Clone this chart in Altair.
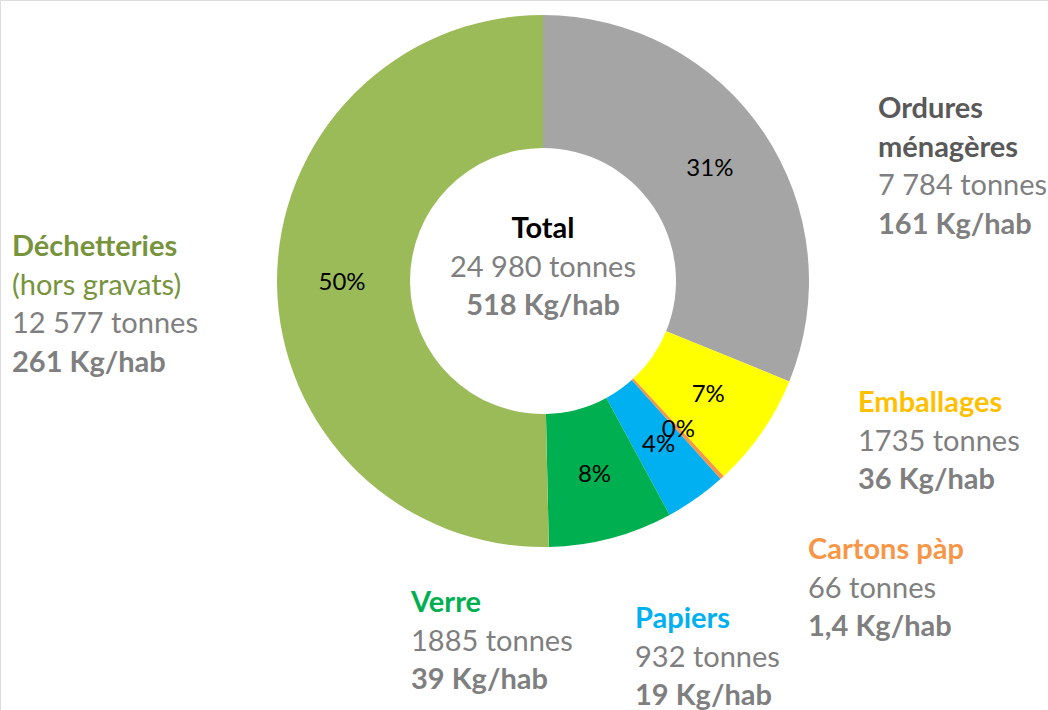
import altair as alt
import pandas as pd

# ---- data ----
categories = ["Ordures ménagères", "Emballages", "Cartons pàp", "Papiers", "Verre", "Déchetteries"]
tonnes = [7784, 1735, 66, 932, 1885, 12577]
slice_colors = ["#A5A5A5", "#FFFF00", "#F79646", "#00B0F0", "#00B050", "#9BBB59"]

df = pd.DataFrame({"cat": categories, "value": tonnes, "order": list(range(len(categories)))})

FONT = "Lato"
CX, CY = 543, 281

base = alt.Chart(df).encode(
    theta=alt.Theta("value:Q", stack=True),
    order=alt.Order("order:Q"),
    x=alt.value(CX),
    y=alt.value(CY),
)

arcs = base.mark_arc(outerRadius=266, innerRadius=133, stroke=None).encode(
    color=alt.Color("cat:N", scale=alt.Scale(domain=categories, range=slice_colors), legend=None)
)

pcts = base.mark_text(radius=201, font=FONT, fontSize=24, color="#000000").transform_joinaggregate(
    total="sum(value)"
).transform_calculate(
    pct="format(datum.value / datum.total, '.0%')"
).encode(text="pct:N")

layers = [arcs, pcts]

GRAY = "#7F7F7F"


def block(x, y0, lines, align="left", step=38.5):
    out = []
    for i, (txt, color, weight) in enumerate(lines):
        out.append(
            alt.Chart(df).mark_text(
                text=txt, font=FONT, fontSize=29, fontWeight=weight, color=color,
                align=align, baseline="middle",
            ).encode(x=alt.value(x), y=alt.value(y0 + i * step))
            .transform_filter("datum.order == 0")
        )
    return out


layers += block(CX, 229, [("Total", "#000000", "bold"),
                          ("24 980 tonnes", GRAY, "normal"),
                          ("518 Kg/hab", GRAY, "bold")], align="center")
layers += block(12, 247, [("Déchetteries", "#77933C", "bold"),
                          ("(hors gravats)", "#77933C", "normal"),
                          ("12 577 tonnes", GRAY, "normal"),
                          ("261 Kg/hab", GRAY, "bold")])
layers += block(878, 109, [("Ordures", "#595959", "bold"),
                           ("ménagères", "#595959", "bold"),
                           ("7 784 tonnes", GRAY, "normal"),
                           ("161 Kg/hab", GRAY, "bold")])
layers += block(858, 403, [("Emballages", "#FFC000", "bold"),
                           ("1735 tonnes", GRAY, "normal"),
                           ("36 Kg/hab", GRAY, "bold")])
layers += block(808, 550, [("Cartons pàp", "#F79646", "bold"),
                           ("66 tonnes", GRAY, "normal"),
                           ("1,4 Kg/hab", GRAY, "bold")])
layers += block(411, 603, [("Verre", "#00B050", "bold"),
                           ("1885 tonnes", GRAY, "normal"),
                           ("39 Kg/hab", GRAY, "bold")])
layers += block(635, 619, [("Papiers", "#00B0F0", "bold"),
                           ("932 tonnes", GRAY, "normal"),
                           ("19 Kg/hab", GRAY, "bold")])

chart = alt.layer(*layers).properties(
    width=1048, height=710,
    autosize=alt.AutoSizeParams(type="none"),
    padding=0,
).configure_view(stroke=None).configure(background="white")

chart.save("out.html", embed_options={"renderer": "svg", "actions": False})
